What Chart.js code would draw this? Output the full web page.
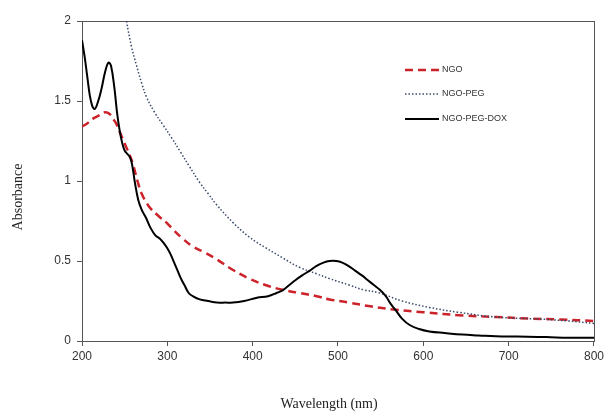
<!DOCTYPE html>
<html>
<head>
<meta charset="utf-8">
<script src="https://cdn.jsdelivr.net/npm/chart.js@4.4.1/dist/chart.umd.min.js"></script>
<style>
  html, body { margin: 0; padding: 0; background: #fff; }
  #wrap { width: 607px; height: 412px; }
</style>
</head>
<body>
<div id="wrap"><canvas id="uvChart" width="607" height="412"></canvas></div>
<script>
// axis ticks
const xTicks = [200, 300, 400, 500, 600, 700, 800];
const yTicks = [0, 0.5, 1, 1.5, 2];

// NGO (red dashed)
const ngoWl = [200, 206, 213, 220, 227, 232, 236, 240, 244, 248, 252, 256, 260, 265, 270, 276, 280, 290, 299, 308, 318, 330, 345, 358, 375, 396, 415, 435, 455, 475, 490, 513, 540, 568, 600, 646, 685, 724, 760, 800];
const ngoAbs = [1.34, 1.36, 1.39, 1.41, 1.43, 1.42, 1.39, 1.36, 1.31, 1.26, 1.21, 1.16, 1.1, 1.0, 0.92, 0.86, 0.83, 0.78, 0.74, 0.69, 0.64, 0.59, 0.55, 0.51, 0.45, 0.39, 0.35, 0.32, 0.3, 0.28, 0.26, 0.24, 0.215, 0.195, 0.18, 0.16, 0.15, 0.14, 0.135, 0.125];

// NGO-PEG (dotted)
const pegWl = [252, 258, 264, 270, 276, 285, 295, 305, 315, 326, 338, 348, 358, 377, 396, 416, 435, 455, 475, 490, 513, 530, 549, 575, 607, 640, 685, 744, 770, 800];
const pegAbs = [2.0, 1.84, 1.72, 1.61, 1.52, 1.43, 1.35, 1.27, 1.185, 1.09, 0.99, 0.92, 0.85, 0.74, 0.65, 0.58, 0.52, 0.46, 0.42, 0.39, 0.35, 0.32, 0.3, 0.25, 0.21, 0.18, 0.15, 0.135, 0.125, 0.11];

// NGO-PEG-DOX (black solid)
const doxWl = [200, 203, 206, 209, 212, 215, 219, 223, 227, 231, 234, 238, 241, 244, 247, 250, 253, 256, 258, 260, 262, 266, 270, 275, 280, 286, 291, 296, 300, 304, 308, 312, 316, 320, 325, 330, 338, 348, 358, 368, 377, 390, 405, 418, 428, 436, 443, 450, 458, 467, 475, 483, 490, 498, 505, 512, 520, 528, 535, 542, 549, 556, 562, 568, 575, 584, 595, 607, 625, 646, 665, 685, 710, 744, 770, 800];
const doxAbs = [1.88, 1.78, 1.66, 1.54, 1.47, 1.45, 1.5, 1.58, 1.68, 1.74, 1.72, 1.58, 1.43, 1.32, 1.24, 1.19, 1.17, 1.15, 1.12, 1.06, 0.99, 0.88, 0.82, 0.77, 0.71, 0.66, 0.64, 0.61, 0.58, 0.54, 0.49, 0.44, 0.39, 0.35, 0.3, 0.28, 0.26, 0.25, 0.24, 0.24, 0.24, 0.25, 0.27, 0.28, 0.3, 0.32, 0.35, 0.38, 0.41, 0.44, 0.47, 0.49, 0.5, 0.5, 0.49, 0.47, 0.44, 0.41, 0.38, 0.35, 0.32, 0.28, 0.23, 0.19, 0.14, 0.1, 0.075, 0.06, 0.05, 0.04, 0.035, 0.03, 0.028, 0.025, 0.02, 0.02];

const toPoints = (xs, ys) => xs.map((x, i) => ({ x: x, y: ys[i] }));

const axisColor = '#555';
const tickFont = { family: 'Liberation Sans, Arial, sans-serif', size: 12 };

// box around the plot area (top/right edges too)
const frame = {
  id: 'frame',
  beforeDatasetsDraw(chart) {
    const a = chart.chartArea, ctx = chart.ctx;
    ctx.save();
    ctx.strokeStyle = axisColor;
    ctx.lineWidth = 1;
    ctx.strokeRect(Math.round(a.left) + 0.5, Math.round(a.top) + 0.5, Math.round(a.right - a.left), Math.round(a.bottom - a.top));
    ctx.restore();
  }
};

// legend inside the plot, line sample + label
const lineLegend = {
  id: 'lineLegend',
  afterDraw(chart) {
    const ctx = chart.ctx;
    const rows = [70, 94, 119];
    ctx.save();
    chart.data.datasets.forEach((ds, i) => {
      const y = rows[i];
      ctx.strokeStyle = ds.borderColor;
      ctx.lineWidth = ds.borderWidth;
      ctx.setLineDash(ds.borderDash || []);
      ctx.beginPath();
      ctx.moveTo(405, y);
      ctx.lineTo(439, y);
      ctx.stroke();
      ctx.setLineDash([]);
      ctx.fillStyle = '#333';
      ctx.font = '9px "Liberation Sans", Arial, sans-serif';
      ctx.textBaseline = 'middle';
      ctx.textAlign = 'left';
      ctx.fillText(ds.label, 442, y);
    });
    ctx.restore();
  }
};

// axis titles (serif, as in the original)
const axisTitles = {
  id: 'axisTitles',
  afterDraw(chart) {
    const ctx = chart.ctx;
    ctx.save();
    ctx.fillStyle = '#222';
    ctx.font = '14px "Liberation Serif", "Times New Roman", serif';
    ctx.textAlign = 'center';
    ctx.textBaseline = 'middle';
    ctx.fillText('Wavelength (nm)', 329, 404);
    ctx.translate(18, 197);
    ctx.rotate(-Math.PI / 2);
    ctx.fillText('Absorbance', 0, 0);
    ctx.restore();
  }
};

const ctx = document.getElementById('uvChart').getContext('2d');
new Chart(ctx, {
  type: 'line',
  data: {
    datasets: [
      {
        label: 'NGO',
        data: toPoints(ngoWl, ngoAbs),
        borderColor: '#cc2229',
        borderWidth: 2.5,
        borderDash: [8, 5],
        order: 2
      },
      {
        label: 'NGO-PEG',
        data: toPoints(pegWl, pegAbs),
        borderColor: '#3b4a6b',
        borderWidth: 1.5,
        borderDash: [1.5, 2],
        order: 1
      },
      {
        label: 'NGO-PEG-DOX',
        data: toPoints(doxWl, doxAbs),
        borderColor: '#000',
        borderWidth: 2,
        order: 0
      }
    ]
  },
  options: {
    responsive: false,
    animation: false,
    events: [],
    elements: {
      point: { radius: 0 },
      line: { tension: 0.4, fill: false }
    },
    layout: { padding: { left: 0, right: 12, top: 21, bottom: 0 } },
    plugins: {
      legend: { display: false },
      tooltip: { enabled: false }
    },
    scales: {
      x: {
        type: 'linear',
        min: xTicks[0],
        max: xTicks[xTicks.length - 1],
        afterBuildTicks: s => { s.ticks = xTicks.map(v => ({ value: v })); },
        afterFit: s => { s.height = 71; },
        ticks: { color: '#333', font: tickFont, padding: 3, maxRotation: 0, callback: v => String(v) },
        grid: { drawOnChartArea: false, tickLength: 5, color: axisColor },
        border: { color: axisColor, width: 1 }
      },
      y: {
        min: yTicks[0],
        max: yTicks[yTicks.length - 1],
        afterBuildTicks: s => { s.ticks = yTicks.map(v => ({ value: v })); },
        afterFit: s => { s.width = 82; },
        ticks: { color: '#333', font: tickFont, padding: 6, callback: v => String(v) },
        grid: { drawOnChartArea: false, tickLength: 5, color: axisColor },
        border: { color: axisColor, width: 1 }
      }
    }
  },
  plugins: [frame, lineLegend, axisTitles]
});
</script>
</body>
</html>
